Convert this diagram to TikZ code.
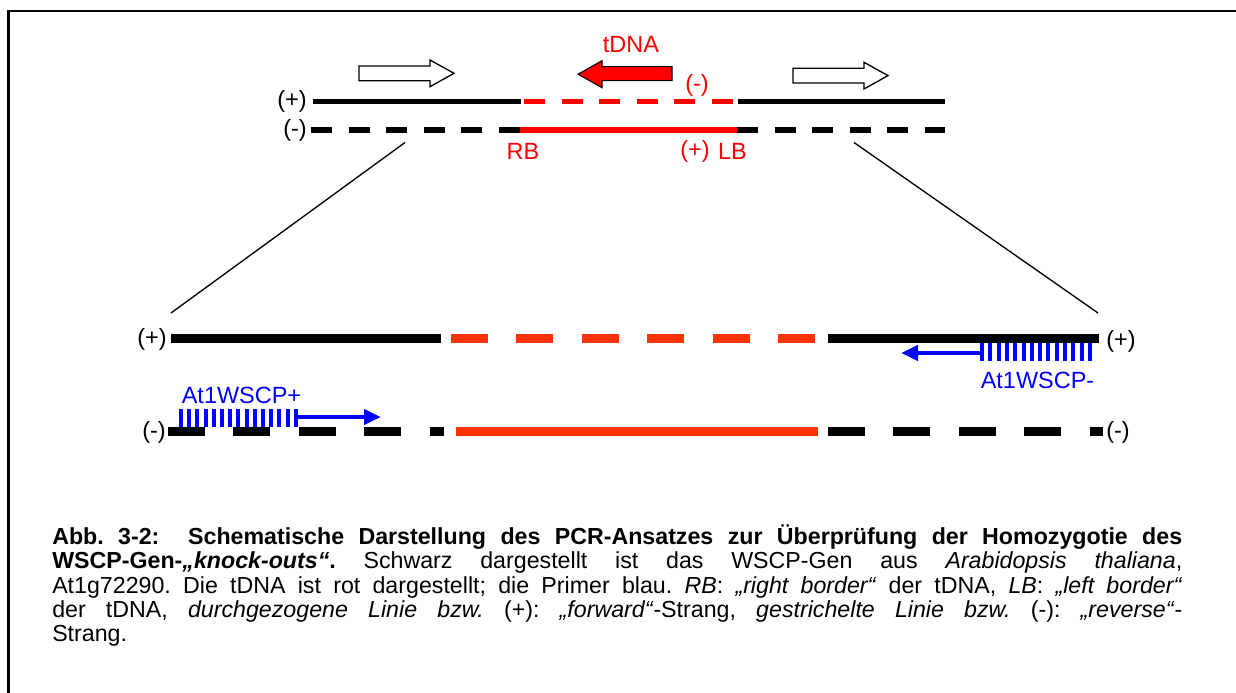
\documentclass[tikz,border=0pt]{standalone}
\usepackage{fontspec}
\setmainfont{Liberation Sans}
\usetikzlibrary{arrows.meta}
\definecolor{tred}{RGB}{255,0,0}
\definecolor{ored}{RGB}{255,51,0}
\definecolor{pblue}{RGB}{0,0,255}
\begin{document}
\frenchspacing
\begin{tikzpicture}[x=0.75pt,y=-0.75pt,
  lbl/.style={inner sep=0pt, font=\fontsize{17.6pt}{20pt}\selectfont},
  topstrand/.style={line width=4.1pt},
  botstrand/.style={line width=6.75pt},
  topdash/.style={dash pattern=on 15.75pt off 12.45pt},
  botdash/.style={dash pattern=on 27.75pt off 21.3pt},
  hollow/.style={draw=black, fill=white, line width=1pt, line join=miter},
  zoomline/.style={line width=1pt},
  primer/.style={pblue, line width=3.5pt, -{Triangle[length=12.75pt,width=11.25pt]}},
  capline/.style={inner sep=0pt, anchor=base west, font=\fontsize{17.4pt}{18.2pt}\selectfont}
]
\useasboundingbox (0,0) rectangle (1236,693);
\fill[white] (0,0) rectangle (1236,693);
\draw[line width=1.6pt] (8.5,693) -- (8.5,11) -- (1236,11);

% top strands
\draw[topstrand] (313,101.5) -- (521,101.5);
\draw[topstrand, tred, topdash] (524,101.5) -- (733,101.5);
\draw[topstrand] (738,101.5) -- (945,101.5);
\draw[topstrand, topdash] (311,130) -- (520,130);
\draw[topstrand, tred] (520,130) -- (737,130);
\draw[topstrand, topdash] (737,130) -- (945,130);

% block arrows
\draw[hollow] (359,66) -- (430,66) -- (430,60) -- (454,73.3) -- (430,86.7) -- (430,80.7) -- (359,80.7) -- cycle;
\draw[hollow] (793,68.3) -- (864,68.3) -- (864,62.3) -- (888,75.6) -- (864,89) -- (864,83) -- (793,83) -- cycle;
\draw[fill=tred, draw=black, line width=0.8pt] (578,74.2) -- (602,60.7) -- (602,66.7) -- (672,66.7) -- (672,80.7) -- (602,80.7) -- (602,87.7) -- cycle;

% top labels
\node[lbl, tred] (tdna) at (631,45) {tDNA};
\node[lbl, tred] (tminus) at (697,85) {(-)};
\node[lbl, tred] (rb) at (523,151) {RB};
\node[lbl, tred] (tplus) at (695,151) {(+)};
\node[lbl, tred] (lb) at (732.5,151) {LB};
\node[lbl, anchor=east] (tp) at (307,101.5) {(+)};
\node[lbl, anchor=east] (tm) at (307,130) {(-)};

% zoom lines
\coordinate (zl1) at (405,142.5);
\coordinate (zl2) at (171,313);
\coordinate (zr1) at (854,142.5);
\coordinate (zr2) at (1098,313);
\draw[zoomline] (zl1) -- (zl2);
\draw[zoomline] (zr1) -- (zr2);

% bottom strands
\draw[botstrand] (171,338) -- (441,338);
\draw[botstrand, ored, botdash] (451,338) -- (815,338);
\draw[botstrand] (828,338) -- (1099,338);
\draw[botstrand, botdash] (168,431) -- (444,431);
\draw[botstrand, ored] (456,431) -- (818,431);
\draw[botstrand, botdash] (828,431) -- (1103,431);

\node[lbl, anchor=east] (bp) at (167,339) {(+)};
\node[lbl, anchor=east] (bm) at (166,432) {(-)};
\node[lbl, anchor=west] (bpr) at (1106,341) {(+)};
\node[lbl, anchor=west] (bmr) at (1106,432) {(-)};

% primers
\foreach \i in {0,...,14} \fill[pblue] ({179+\i*8.2},409) rectangle ++(4,18);
\foreach \i in {0,...,13} \fill[pblue] ({980+\i*8.3},343) rectangle ++(4,18);
\coordinate (pa) at (298,417);
\coordinate (pb) at (381,417);
\coordinate (ma) at (980,353);
\coordinate (mb) at (901,353);
\draw[primer] (pa) -- (pb);
\draw[primer] (ma) -- (mb);
\node[lbl, pblue] (plab) at (241.5,395) {At1WSCP+};
\node[lbl, pblue] (mlab) at (1037.5,380) {At1WSCP-};

% caption
\node[capline] (c1) at (52,544.5) {\makebox[847.5pt][s]{\bfseries Abb. 3-2:\ \ Schematische Darstellung des PCR-Ansatzes zur Überprüfung der Homozygotie des}};
\node[capline] (c2) at (52,568.75) {\makebox[847.5pt][s]{\textbf{WSCP-Gen-\textit{„knock-outs“}.} Schwarz dargestellt ist das WSCP-Gen aus \textit{Arabidopsis thaliana},}};
\node[capline] (c3) at (52,593) {\makebox[847.5pt][s]{At1g72290. Die tDNA ist rot dargestellt; die Primer blau. \textit{RB}: \textit{„right border“} der tDNA, \textit{LB}: \textit{„left border“}}};
\node[capline] (c4) at (52,617.25) {\makebox[847.5pt][s]{der tDNA, \textit{durchgezogene Linie bzw.} (+): \textit{„forward“}-Strang, \textit{gestrichelte Linie bzw.} (-): \textit{„reverse“}-}};
\node[capline] (c5) at (52,641.5) {Strang.};
\end{tikzpicture}
\end{document}
